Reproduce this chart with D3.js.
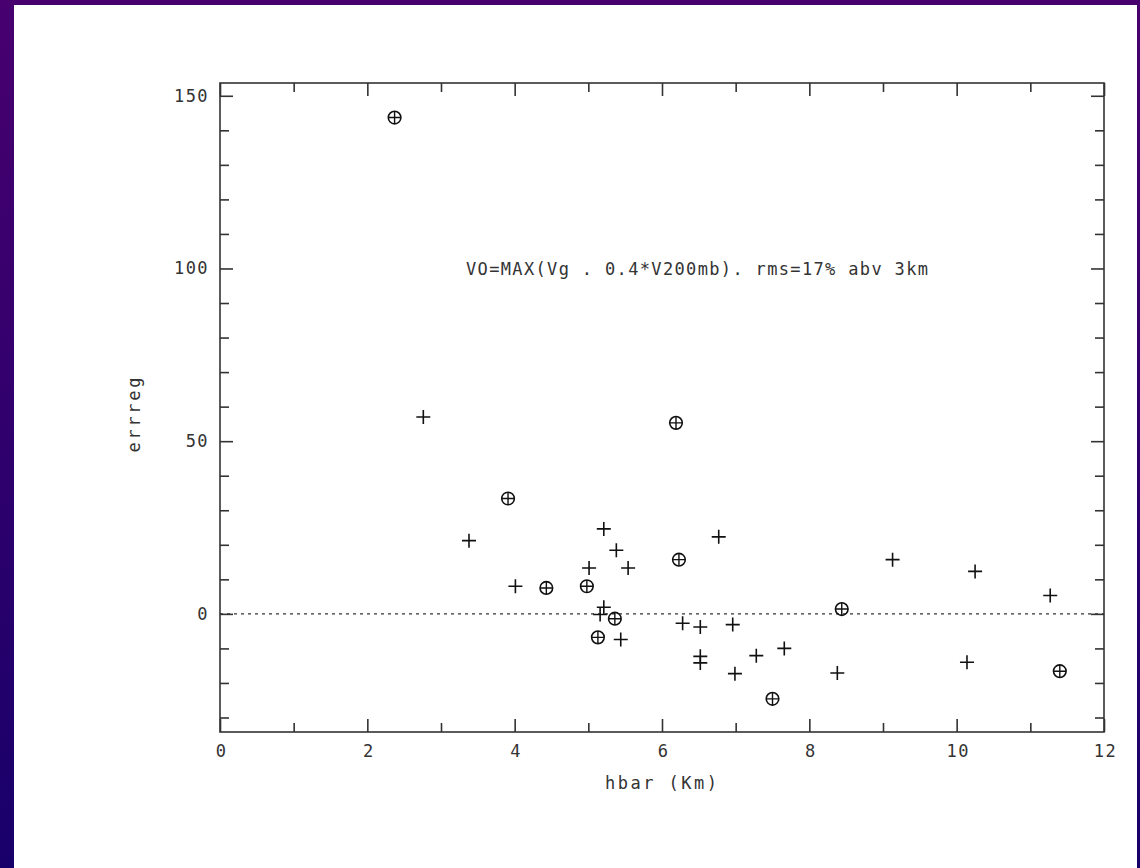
<!DOCTYPE html>
<html>
<head>
<meta charset="utf-8">
<script src="https://cdn.jsdelivr.net/npm/d3@7"></script>
<style>
  html, body { margin: 0; padding: 0; }
  body { width: 1140px; height: 868px; overflow: hidden; }
  svg text { font-family: "DejaVu Sans Mono", "Liberation Mono", monospace; fill: #333; }
</style>
</head>
<body>
<script>

// points drawn with a plain cross
var crossX = [2.76, 3.38, 5.21, 5.38, 5.01, 5.54, 4.01, 5.21, 5.16, 5.44, 6.28, 6.77, 9.13, 10.25, 11.27, 6.52, 6.96, 6.52, 6.52, 7.28, 7.66, 6.99, 8.38, 10.14];
var crossY = [57.0, 21.2, 24.6, 18.4, 13.3, 13.3, 8.0, 1.9, -0.2, -7.4, -2.7, 22.3, 15.7, 12.3, 5.3, -3.8, -3.1, -12.3, -14.2, -12.1, -10.0, -17.3, -17.1, -14.0];

// points drawn with a circled cross
var circX = [2.37, 6.19, 3.91, 6.23, 4.43, 4.98, 5.36, 5.13, 8.44, 11.40, 7.50];
var circY = [143.7, 55.3, 33.4, 15.7, 7.5, 8.0, -1.4, -6.8, 1.4, -16.6, -24.6];

var xMajor = [0, 2, 4, 6, 8, 10, 12];
var xMinor = [1, 3, 5, 7, 9, 11];
var yMajor = [0, 50, 100, 150];
var yMinor = [-30, -20, -10, 10, 20, 30, 40, 60, 70, 80, 90, 110, 120, 130, 140];

var xTitle = "hbar (Km)";
var yTitle = "errreg";
var note = "VO=MAX(Vg . 0.4*V200mb). rms=17% abv 3km";

var W = 1140, H = 868;
var plot = {left: 220, right: 1104, top: 83, bottom: 732};

var x = d3.scaleLinear().domain([0, 12]).range([plot.left, plot.right]);
var y = d3.scaleLinear().domain([-34.2, 153.7]).range([plot.bottom, plot.top]);

var svg = d3.select("body").append("svg")
    .attr("width", W)
    .attr("height", H);

// purple frame behind the white page
var grad = svg.append("defs").append("linearGradient")
    .attr("id", "bg").attr("x1", 0).attr("y1", 0).attr("x2", 0).attr("y2", 1);
grad.append("stop").attr("offset", "0%").attr("stop-color", "#48006f");
grad.append("stop").attr("offset", "100%").attr("stop-color", "#18006a");

svg.append("rect").attr("width", W).attr("height", H).attr("fill", "url(#bg)");
svg.append("rect")
    .attr("x", 14).attr("y", 5)
    .attr("width", W - 14 - 3).attr("height", H - 5)
    .attr("fill", "white");

var axisColor = "#333";
var fs = 17;

function tickLayer(axis, ticks, size, transform, withLabels) {
    var g = svg.append("g")
        .attr("transform", transform)
        .call(axis.tickValues(ticks).tickSize(size).tickSizeOuter(0).tickPadding(11)
              .tickFormat(withLabels ? d3.format("d") : ""));
    g.select(".domain").remove();
    g.selectAll("line").attr("stroke", axisColor).attr("stroke-width", 1.6);
    g.selectAll("text")
        .attr("font-size", fs)
        .attr("letter-spacing", 1.4);
    return g;
}

// left + bottom carry labels, top + right only ticks; all ticks point inward
tickLayer(d3.axisLeft(y), yMajor, -13, "translate(" + plot.left + ",0)", true);
tickLayer(d3.axisLeft(y), yMinor, -9, "translate(" + plot.left + ",0)", false);
tickLayer(d3.axisRight(y), yMajor, -13, "translate(" + plot.right + ",0)", false);
tickLayer(d3.axisRight(y), yMinor, -9, "translate(" + plot.right + ",0)", false);
var xb = tickLayer(d3.axisBottom(x), xMajor, -13, "translate(0," + plot.bottom + ")", true);
xb.selectAll("text").attr("dy", "0.71em").attr("transform", "translate(1,2)");
tickLayer(d3.axisBottom(x), xMinor, -9, "translate(0," + plot.bottom + ")", false);
tickLayer(d3.axisTop(x), xMajor, -13, "translate(0," + plot.top + ")", false);
tickLayer(d3.axisTop(x), xMinor, -9, "translate(0," + plot.top + ")", false);

// box
svg.append("rect")
    .attr("x", x(0)).attr("y", y(153.7))
    .attr("width", x(12) - x(0)).attr("height", y(-34.2) - y(153.7))
    .attr("fill", "none")
    .attr("stroke", axisColor)
    .attr("stroke-width", 1.6);

// zero line
svg.append("line")
    .attr("x1", x(0)).attr("x2", x(12))
    .attr("y1", y(0)).attr("y2", y(0))
    .attr("stroke", axisColor)
    .attr("stroke-width", 1.3)
    .attr("stroke-dasharray", "3,4");

// markers
var arm = 7;
var crosses = d3.range(crossX.length).map(function(i){ return [crossX[i], crossY[i]]; });
svg.append("g").selectAll("path")
    .data(crosses)
    .join("path")
    .attr("d", function(d){
        var cx = x(d[0]), cy = y(d[1]);
        return "M" + (cx - arm) + "," + cy + "H" + (cx + arm) + "M" + cx + "," + (cy - arm) + "V" + (cy + arm);
    })
    .attr("stroke", "#111")
    .attr("stroke-width", 1.6)
    .attr("fill", "none");

var circles = d3.range(circX.length).map(function(i){ return [circX[i], circY[i]]; });
var r = 6.3;
var cg = svg.append("g").selectAll("g")
    .data(circles)
    .join("g")
    .attr("transform", function(d){ return "translate(" + x(d[0]) + "," + y(d[1]) + ")"; });
cg.append("circle")
    .attr("r", r)
    .attr("fill", "none")
    .attr("stroke", "#111")
    .attr("stroke-width", 1.6);
cg.append("path")
    .attr("d", "M" + (-r) + ",0H" + r + "M0," + (-r) + "V" + r)
    .attr("stroke", "#111")
    .attr("stroke-width", 1.4);

// titles
svg.append("text")
    .attr("x", 661).attr("y", 789)
    .attr("text-anchor", "middle")
    .attr("font-size", fs)
    .attr("textLength", 112)
    .attr("lengthAdjust", "spacing")
    .text(xTitle);

svg.append("text")
    .attr("transform", "translate(140,415) rotate(-90)")
    .attr("text-anchor", "middle")
    .attr("font-size", fs)
    .attr("textLength", 75)
    .attr("lengthAdjust", "spacing")
    .text(yTitle);

svg.append("text")
    .attr("x", 466).attr("y", 275)
    .attr("font-size", fs)
    .attr("textLength", 462)
    .attr("lengthAdjust", "spacing")
    .text(note);

</script>
</body>
</html>
